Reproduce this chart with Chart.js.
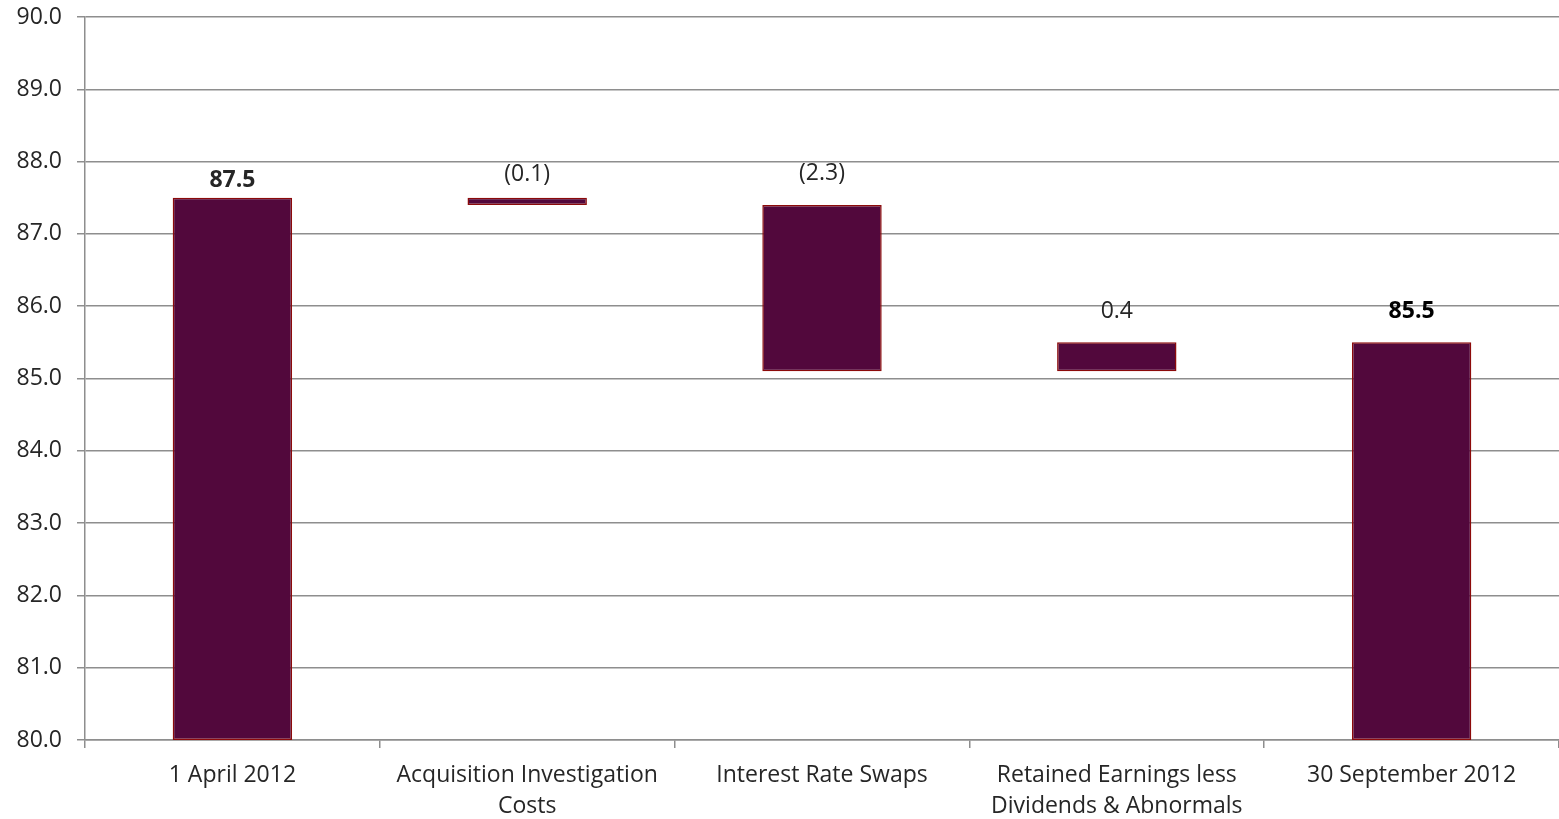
<!DOCTYPE html>
<html>
<head>
<meta charset="utf-8">
<title>Equity movement</title>
<script src="https://cdn.jsdelivr.net/npm/chart.js@4"></script>
<style>
  html, body { margin: 0; padding: 0; background: #fff; }
  #wrap { width: 1559px; height: 819px; }
</style>
</head>
<body>
<div id="wrap"><canvas id="chart"></canvas></div>
<script>
// Bridge items, opening and closing balances are totals, the rest are movements
const categories = [
    '1 April 2012',
    ['Acquisition Investigation', 'Costs'],
    'Interest Rate Swaps',
    ['Retained Earnings less', 'Dividends & Abnormals'],
    '30 September 2012'
];
const values = [87.5, -0.1, -2.3, 0.4, 85.5];
const kinds = ['total', 'delta', 'delta', 'delta', 'total'];
const yTicks = [80, 81, 82, 83, 84, 85, 86, 87, 88, 89, 90];

const axisMin = yTicks[0];
const axisMax = yTicks[yTicks.length - 1];

// Build floating [low, high] ranges from the running total
const ranges = [];
let running = 0;
values.forEach((v, i) => {
    if (kinds[i] === 'total') {
        running = v;
        ranges.push([axisMin, v]);
    } else {
        const next = running + v;
        ranges.push([Math.min(running, next), Math.max(running, next)]);
        running = next;
    }
});

const formatValue = (v, kind) => {
    const txt = Math.abs(v).toFixed(1);
    return kind === 'delta' && v < 0 ? `(${txt})` : txt;
};

const FONT = '"Open Sans", sans-serif';
const GRID = '#8e8e8e';
const TEXT = '#262626';

// distance from bar top to label centre
const labelOffsets = [17, 23, 32, 31, 31];
const labelColors = [TEXT, TEXT, TEXT, TEXT, '#000000'];

const valueLabels = {
    id: 'valueLabels',
    afterDatasetsDraw(chart) {
        const ctx = chart.ctx;
        const meta = chart.getDatasetMeta(0);
        ctx.save();
        ctx.textAlign = 'center';
        ctx.textBaseline = 'middle';
        meta.data.forEach((bar, i) => {
            const top = Math.min(bar.y, bar.base);
            ctx.font = (kinds[i] === 'total' ? 'bold ' : '') + '23px ' + FONT;
            ctx.fillStyle = labelColors[i];
            ctx.fillText(formatValue(values[i], kinds[i]), bar.x, top - labelOffsets[i]);
        });
        ctx.restore();
    }
};

new Chart(document.getElementById('chart'), {
    type: 'bar',
    data: {
        labels: categories,
        datasets: [{
            data: ranges,
            backgroundColor: '#52083c',
            borderColor: '#8c0a0a',
            borderWidth: 1.5,
            borderSkipped: false,
            barPercentage: 0.405,
            categoryPercentage: 1
        }]
    },
    options: {
        responsive: true,
        maintainAspectRatio: false,
        animation: false,
        layout: { padding: { top: 17, right: 0, left: 0, bottom: 0 } },
        plugins: {
            legend: { display: false },
            tooltip: { enabled: false }
        },
        scales: {
            x: {
                grid: {
                    offset: true,
                    drawOnChartArea: false,
                    tickLength: 8,
                    color: GRID,
                    lineWidth: 1.5
                },
                border: { color: GRID, width: 1.5 },
                ticks: {
                    color: TEXT,
                    padding: 12,
                    maxRotation: 0,
                    autoSkip: false,
                    font: { family: FONT, size: 23, lineHeight: 1.35 }
                },
                afterFit: s => { s.height = 79; }
            },
            y: {
                min: axisMin,
                max: axisMax,
                afterBuildTicks: s => { s.ticks = yTicks.map(v => ({ value: v })); },
                grid: { color: GRID, lineWidth: 1.5, tickLength: 8 },
                border: { color: GRID, width: 1.5 },
                ticks: {
                    color: TEXT,
                    padding: 15,
                    font: { family: FONT, size: 23 },
                    callback: v => Number(v).toFixed(1)
                },
                afterFit: s => {
                    s.width = 85;
                    s.paddingTop = 0;
                    s.paddingBottom = 0;
                }
            }
        }
    },
    plugins: [valueLabels]
});
</script>
</body>
</html>
